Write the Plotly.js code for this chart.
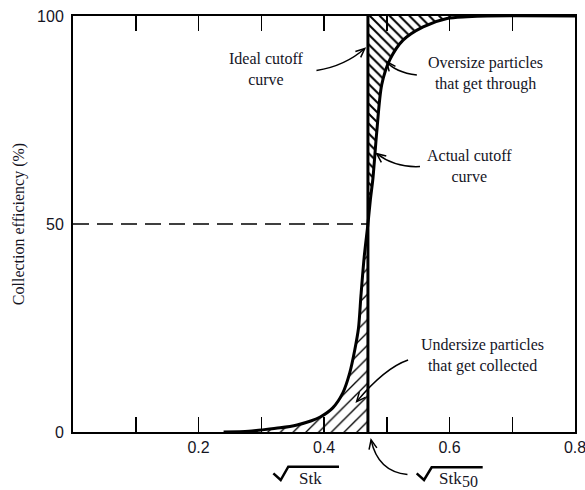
<!DOCTYPE html>
<html>
<head>
<meta charset="utf-8">
<script src="https://cdn.plot.ly/plotly-3.0.1.min.js"></script>
<style>
  html, body { margin: 0; padding: 0; background: #ffffff; }
  #chart { width: 585px; height: 490px; }
</style>
</head>
<body>
<div id="chart"></div>
<script>
// ---- data ----
const stk = [0.24, 0.28, 0.30, 0.33, 0.357, 0.38, 0.394, 0.414, 0.430, 0.441, 0.449, 0.455, 0.459, 0.464, 0.470, 0.474, 0.478, 0.484, 0.492, 0.505, 0.526, 0.558, 0.596, 0.628, 0.66, 0.80];
const eff = [0, 0.2, 0.5, 1.0, 1.7, 2.7, 3.6, 5.8, 9.4, 14.2, 19.7, 25, 33, 42, 50, 56, 61, 72, 83.5, 89.5, 94.2, 97.4, 99.4, 99.8, 100, 100];
const cutoff = 0.47;          // sqrt(Stk50)
const halfEff = 50;           // 50 % efficiency
const xTickVals = [0.2, 0.4, 0.6, 0.8];
const xTickText = ['0.2', '0.4', '0.6', '0.8'];
const xMinorDtick = 0.1;
const yTickVals = [0, 50, 100];
const yTickText = ['0', '50', '100'];
const yTitle = 'Collection efficiency (%)';

// annotation texts
const labels = [
  {t: 'Ideal cutoff<br>curve', x: 0.3076, y: 87.3},
  {t: 'Oversize particles<br>that get through', x: 0.658, y: 86.2},
  {t: 'Actual cutoff<br>curve', x: 0.632, y: 64.0},
  {t: 'Undersize particles<br>that get collected', x: 0.653, y: 18.3}
];
const stkLabel = {t: 'Stk', x: 0.379, y: -11.1};
const stk50Label = {t: 'Stk', x: 0.5796, y: -11.1};
const stk50Sub = {t: '50', x: 0.6164, y: -11.9};
// curved arrows: tail, control, head (in axis units)
const arrows = [
  {tail: [0.388, 86.9], ctrl: [0.4335, 88.0], head: [0.465, 92.2]},
  {tail: [0.548, 85.8], ctrl: [0.513, 86.5], head: [0.500, 89.0]},
  {tail: [0.553, 63.8], ctrl: [0.513, 63.5], head: [0.484, 66.9]},
  {tail: [0.534, 17.3], ctrl: [0.497, 15.4], head: [0.452, 7.3]},
  {tail: [0.533, -10.2], ctrl: [0.486, -9.6], head: [0.475, -1.9]}
];
const radicals = [
  {xs: [0.3193, 0.3310, 0.3431, 0.4239], ys: [-9.93, -11.54, -8.34, -8.34]},
  {xs: [0.5477, 0.5594, 0.5716, 0.6529], ys: [-9.93, -11.54, -8.49, -8.49]}
];

// ---- geometry ----
const W = 585, H = 490;
const M = {l: 73, r: 10, t: 16, b: 58};
const xRange = [0, 0.8], yRange = [0, 100];
const plotW = W - M.l - M.r, plotH = H - M.t - M.b;
const pxPerX = plotW / (xRange[1] - xRange[0]);
const pxPerY = plotH / (yRange[1] - yRange[0]);
const toPx = v => (v - xRange[0]) / (xRange[1] - xRange[0]);
const toPy = v => (v - yRange[0]) / (yRange[1] - yRange[0]);

// hatched regions built from the curve
const upX = [], upY = [], loX = [], loY = [];
let reached = false;
for (let i = 0; i < stk.length; i++) {
  if (eff[i] >= halfEff && !reached) { upX.push(stk[i]); upY.push(eff[i]); if (eff[i] >= 100) reached = true; }
  if (eff[i] <= halfEff) { loX.push(stk[i]); loY.push(eff[i]); }
}
upX.push(cutoff); upY.push(100);
loX.push(cutoff); loY.push(0);

const black = '#000000';
const textColor = '#15151f';
const serif = 'Liberation Serif, Times New Roman, serif';

const traces = [
  {x: upX, y: upY, type: 'scatter', mode: 'none', fill: 'toself',
   fillcolor: 'rgba(255,255,255,0)',
   fillpattern: {shape: '\\', size: 7, solidity: 0.28, fgcolor: black, bgcolor: 'white'},
   hoverinfo: 'skip', showlegend: false},
  {x: loX, y: loY, type: 'scatter', mode: 'none', fill: 'toself',
   fillcolor: 'rgba(255,255,255,0)',
   fillpattern: {shape: '/', size: 9, solidity: 0.15, fgcolor: black, bgcolor: 'white'},
   hoverinfo: 'skip', showlegend: false},
  {x: [0, cutoff], y: [halfEff, halfEff], type: 'scatter', mode: 'lines',
   line: {color: black, width: 1.5, dash: '16px,8px'}, showlegend: false},
  {x: stk, y: eff, type: 'scatter', mode: 'lines', cliponaxis: false,
   line: {color: black, width: 3, shape: 'spline', smoothing: 0.8}, showlegend: false},
  {x: [cutoff, cutoff], y: [0, 100], type: 'scatter', mode: 'lines', cliponaxis: false,
   line: {color: black, width: 3}, showlegend: false}
];

const annotations = labels.map(l => ({
  x: toPx(l.x), y: toPy(l.y), xref: 'paper', yref: 'paper', text: l.t, showarrow: false,
  xanchor: 'center', yanchor: 'middle', align: 'center',
  font: {family: serif, size: 16, color: textColor}
}));
annotations.push({x: toPx(stkLabel.x), y: toPy(stkLabel.y), xref: 'paper', yref: 'paper',
  text: stkLabel.t, showarrow: false, xanchor: 'center', yanchor: 'middle',
  font: {family: serif, size: 17, color: textColor}});
annotations.push({x: toPx(stk50Label.x), y: toPy(stk50Label.y), xref: 'paper', yref: 'paper',
  text: stk50Label.t, showarrow: false, xanchor: 'left', yanchor: 'middle',
  font: {family: serif, size: 17, color: textColor}});
annotations.push({x: toPx(stk50Sub.x), y: toPy(stk50Sub.y), xref: 'paper', yref: 'paper',
  text: stk50Sub.t, showarrow: false, xanchor: 'left', yanchor: 'middle',
  font: {family: serif, size: 16, color: textColor}});

const shapes = [];
arrows.forEach(a => {
  const hx = toPx(a.head[0]), hy = toPy(a.head[1]);
  shapes.push({type: 'path', xref: 'paper', yref: 'paper',
    path: `M ${toPx(a.tail[0])} ${toPy(a.tail[1])} Q ${toPx(a.ctrl[0])} ${toPy(a.ctrl[1])} ${hx} ${hy}`,
    line: {color: black, width: 1.5}});
  // arrowhead (open V) along final tangent, computed in pixels
  const dx = (a.head[0] - a.ctrl[0]) * pxPerX;
  const dy = (a.head[1] - a.ctrl[1]) * pxPerY;
  const len = Math.hypot(dx, dy);
  const ux = dx / len, uy = dy / len;
  const L = 9, Wd = 4;
  const b1x = hx + (-ux * L - uy * Wd) / plotW, b1y = hy + (-uy * L + ux * Wd) / plotH;
  const b2x = hx + (-ux * L + uy * Wd) / plotW, b2y = hy + (-uy * L - ux * Wd) / plotH;
  shapes.push({type: 'path', xref: 'paper', yref: 'paper',
    path: `M ${b1x} ${b1y} L ${hx} ${hy} L ${b2x} ${b2y}`,
    line: {color: black, width: 1.5}});
});
radicals.forEach(r => {
  shapes.push({type: 'path', xref: 'paper', yref: 'paper',
    path: r.xs.map((x, i) => (i ? 'L ' : 'M ') + toPx(x) + ' ' + toPy(r.ys[i])).join(' '),
    line: {color: black, width: 2.5}});
});

const layout = {
  width: W, height: H,
  margin: M,
  paper_bgcolor: 'white', plot_bgcolor: 'white',
  showlegend: false,
  xaxis: {
    range: xRange, tickmode: 'array', tickvals: xTickVals, ticktext: xTickText,
    ticks: 'inside', ticklen: 15, tickwidth: 1.5, tickcolor: black,
    minor: {dtick: xMinorDtick, tick0: 0, ticks: 'inside', ticklen: 15, tickwidth: 1.5, tickcolor: black, showgrid: false},
    showline: true, linecolor: black, linewidth: 2, mirror: 'ticks',
    showgrid: false, zeroline: false, fixedrange: true, ticklabeloverflow: 'allow',
    tickfont: {family: 'Liberation Sans, Arial, sans-serif', size: 16, color: textColor}
  },
  yaxis: {
    range: yRange, tickmode: 'array', tickvals: yTickVals, ticktext: yTickText,
    ticks: '', showline: true, linecolor: black, linewidth: 2, mirror: true,
    showgrid: false, zeroline: false, fixedrange: true, ticklabelstandoff: 4,
    ticklabeloverflow: 'allow',
    tickfont: {family: 'Liberation Sans, Arial, sans-serif', size: 16, color: textColor},
    title: {text: yTitle, standoff: 8, font: {family: serif, size: 16, color: textColor}}
  },
  annotations: annotations,
  shapes: shapes
};

Plotly.newPlot('chart', traces, layout, {displayModeBar: false, staticPlot: true});
</script>
</body>
</html>
